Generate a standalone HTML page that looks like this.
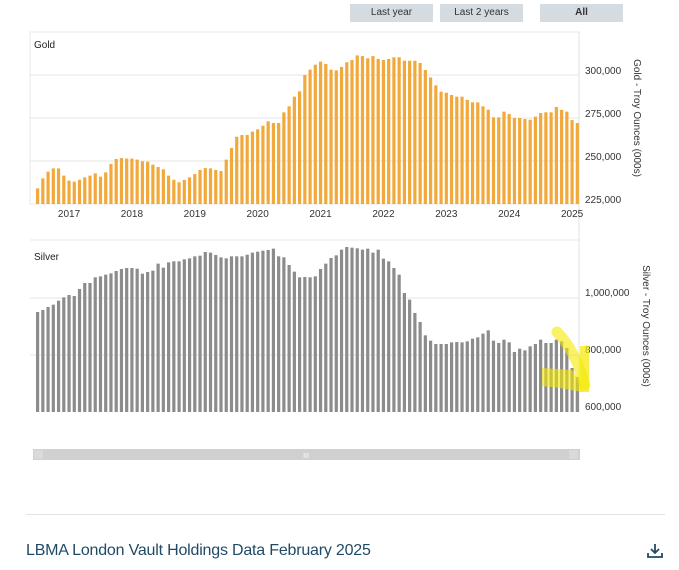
<!DOCTYPE html>
<html><head><meta charset="utf-8"><style>
body{margin:0;width:679px;height:570px;background:#fff;overflow:hidden;font-family:"Liberation Sans",sans-serif;}
.btn{position:absolute;top:4px;height:18px;width:83px;background:#d4dbe1;font-size:10px;color:#333;text-align:center;line-height:18px;}
</style></head><body>
<div class="btn" style="left:350px">Last year</div>
<div class="btn" style="left:440px">Last 2 years</div>
<div class="btn" style="left:540px;font-weight:bold">All</div>
<svg id="c" width="679" height="570" style="position:absolute;left:0;top:0"></svg>
<div style="position:absolute;left:26px;top:514px;width:639px;height:1px;background:#e3e3e3"></div>
<div style="position:absolute;left:26px;top:542px;font-size:16px;letter-spacing:-0.2px;color:#1f4a66">LBMA London Vault Holdings Data February 2025</div>
<svg style="position:absolute;left:646px;top:543px" width="18" height="16"><path d="M9 1v9M5 6l4 4 4-4M2 10v4h14v-4" stroke="#1f4a66" stroke-width="1.8" fill="none"/></svg>
<script>
const years=["2017","2018","2019","2020","2021","2022","2023","2024","2025"];
const goldTicks=[225000,250000,275000,300000];
const silverTicks=[600000,800000,1000000];
const gold=[234.1,239.9,243.8,245.7,245.7,241.5,238.6,238,239.1,240.5,241.5,242.8,240.9,243.4,248.3,251.2,251.7,251.4,251.4,250.8,249.8,249.6,247.9,246.5,245.2,241.5,239.1,237.6,239,240.5,242.4,244.8,245.9,245.7,244.8,244.2,250.8,257.6,264.1,265.1,265.1,267.1,268.4,270.5,273.1,272.1,272.1,278.3,281.8,287.4,290.5,300,303.1,306,307.8,306.4,303.1,302.7,304.7,307.4,308.7,311.4,311,309.7,311,309.3,308.7,309.3,310.3,310.3,308.3,308.3,308.3,307,302.9,298.6,294,290.3,289.7,288.4,287.4,287.4,285.5,284.1,284.1,281.8,279.8,275.4,275.4,278.7,277.3,275,275,274.4,274,275.8,277.9,278.3,278.3,281.4,279.7,278.7,273.8,272.1];
const silver=[950.9,957.9,968.4,976.6,990.6,1002.3,1010.5,1007,1031.6,1052.6,1052.6,1072.5,1076,1081.9,1086.5,1094.7,1101.8,1105.3,1105.3,1102.9,1085.4,1091.2,1095.9,1120.5,1106.4,1125.1,1128.7,1128.7,1135.7,1139.2,1146.2,1148.5,1161.4,1159.1,1150.9,1142.7,1139.2,1146.2,1146.2,1146.2,1152,1159.1,1162.5,1166,1168.4,1173.1,1146.2,1142.7,1115.8,1092.4,1072.5,1073.7,1072.5,1076,1101.8,1120.5,1140.4,1149.7,1169.6,1178.9,1176.6,1174.3,1169.6,1173.1,1159.1,1169.6,1138,1128.7,1105.3,1081.9,1017.5,994.2,947.4,915.8,869,850.3,838.6,838.6,838.6,844.4,845.6,844.4,848,857.3,862,874.9,886.5,850.3,842.1,853.8,844.4,810.5,822.2,816.4,830.4,838.6,853.8,842.1,842.1,853.8,848,824.6,754.4,722.8];
const svg=document.getElementById('c');const NS='http://www.w3.org/2000/svg';
function mk(t,a,txt){const e=document.createElementNS(NS,t);for(const k in a)e.setAttribute(k,a[k]);if(txt!==undefined)e.textContent=txt;svg.appendChild(e);return e;}
const x0=36,step=5.24,bw=3.2;
const xb=i=>x0+i*step;
const gy=v=>204-(v-225000)/25000*43;
const sy=v=>412-(v-600000)/200000*57;
let e=mk('rect',{x:30,y:32,width:549,height:172,fill:'none',stroke:'#eaeaea'});

e=mk('line',{x1:579,y1:32,x2:579,y2:412,stroke:'#e0e0e0'});

e=mk('line',{x1:30,y1:240,x2:579,y2:240,stroke:'#eaeaea'});

goldTicks.forEach(t=>{const y=gy(t);
 if(t>225000){e=mk('line',{x1:30,y1:y,x2:579,y2:y,stroke:'#e6e6e6'});}
 e=mk('text',{x:585,y:y-1,'font-size':10,fill:'#333'},t.toLocaleString('en-US'));
 });
silverTicks.forEach(t=>{const y=sy(t);
 if(t>600000){e=mk('line',{x1:30,y1:y,x2:579,y2:y,stroke:'#e6e6e6'});}
 e=mk('text',{x:585,y:y-2,'font-size':10,fill:'#333'},t.toLocaleString('en-US'));
 });
gold.forEach((v,i)=>{const y=gy(v*1000);e=mk('rect',{x:xb(i),y:y,width:bw,height:204-y,fill:'#f2a93b'});
 });
silver.forEach((v,i)=>{const y=sy(v*1000);e=mk('rect',{x:xb(i),y:y,width:bw,height:412-y,fill:'#8c8c8c'});
 });
years.forEach((yr,k)=>{const i=6+k*12;e=mk('text',{x:xb(i)+bw/2,y:217,'font-size':10,fill:'#333','text-anchor':'middle'},yr);
 });
e=mk('text',{x:34,y:48,'font-size':10,fill:'#222'},'Gold');
e=mk('text',{x:34,y:260,'font-size':10,fill:'#222'},'Silver');
e=mk('text',{x:0,y:0,'font-size':10,fill:'#333','text-anchor':'middle',transform:'translate(634,118) rotate(90)'},'Gold - Troy Ounces (000s)');

e=mk('text',{x:0,y:0,'font-size':10,fill:'#333','text-anchor':'middle',transform:'translate(643,326) rotate(90)'},'Silver - Troy Ounces (000s)');

e=mk('path',{d:'M557 332 Q575 350 585 385',stroke:'#f5e800','stroke-width':11,fill:'none','stroke-linecap':'round',opacity:0.6});

e=mk('path',{d:'M542 368 L572 370 L580 380 L582 392 L560 388 L542 386 Z',fill:'#f5e800',opacity:0.6});

e=mk('rect',{x:580,y:346,width:9,height:46,fill:'#f5e800',opacity:0.7});

e=mk('rect',{x:33,y:449,width:547,height:11,fill:'#d0d0d0'});
e=mk('rect',{x:34,y:450,width:9,height:9,fill:'#dadada'});
e=mk('rect',{x:569,y:450,width:9,height:9,fill:'#dadada'});
e=mk('text',{x:306,y:458,'font-size':7,fill:'#fff','text-anchor':'middle'},'III');
</script>
</body></html>
